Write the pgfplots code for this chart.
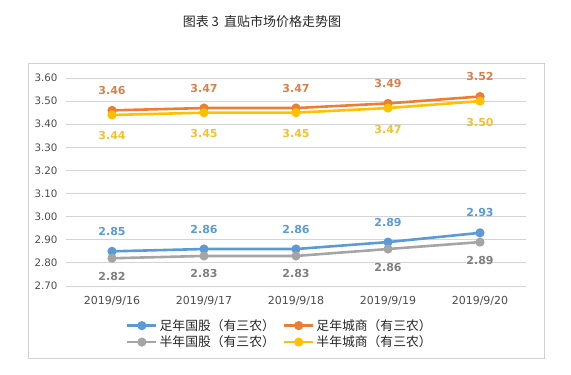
\documentclass[border=0pt]{standalone}
\usepackage{pgfplots}
\pgfplotsset{compat=1.18}
\usepackage{fontspec}
\setmainfont{DejaVu Sans}
\newfontfamily\cjk{Noto Sans CJK SC}
\definecolor{cblue}{HTML}{5B9BD5}
\definecolor{corange}{HTML}{ED7D31}
\definecolor{cgray}{HTML}{A5A5A5}
\definecolor{cyellow}{HTML}{FFC000}
\definecolor{lblue}{HTML}{5B9BD5}
\definecolor{lorange}{HTML}{D9804A}
\definecolor{lgray}{HTML}{7F7F7F}
\definecolor{lyellow}{HTML}{F2C12E}
\begin{document}
\begin{tikzpicture}[x=1pt,y=1pt]
\path[use as bounding box] (0,0) rectangle (571,375);
\draw[color=black!18, line width=0.8pt] (28,17) rectangle (544,312);
\node[font=\cjk\fontsize{13}{15}\selectfont, text=black!85] at (262,353) {图表 3\hspace{0.4em}直贴市场价格走势图};
\begin{axis}[
  at={(66pt,89pt)}, anchor=south west, scale only axis,
  width=460pt, height=208pt,
  xmin=-0.5, xmax=4.5, ymin=2.7, ymax=3.6,
  xtick={0,1,2,3,4},
  xticklabels={2019/9/16,2019/9/17,2019/9/18,2019/9/19,2019/9/20},
  ytick={2.7,2.8,2.9,3.0,3.1,3.2,3.3,3.4,3.5,3.6},
  yticklabel style={xshift=-5pt, font=\fontsize{10.3}{12}\selectfont, /pgf/number format/.cd,fixed,fixed zerofill,precision=2,assume math mode=true},
  xticklabel style={yshift=-7pt, font=\fontsize{11}{13}\selectfont, /pgf/number format/assume math mode=true},
  tick label style={text=black!70},
  axis line style={draw=none},
  major tick length=0pt,
  ymajorgrids, grid style={black!17, line width=0.8pt},
  clip=false,
  legend columns=2,
  legend style={at={(0.465,-0.23)}, anchor=center, draw=none, fill=none,
    font=\cjk\fontsize{12.8}{14}\selectfont, text=black!85,
    /tikz/every even column/.append style={column sep=6pt}},
  legend image code/.code={\draw[#1, mark=none] (0pt,0pt) -- (29pt,0pt); \draw[#1, only marks] plot coordinates {(14.5pt,0pt)};},
  every axis plot/.append style={line width=2.6pt, mark=*, mark size=3.2pt},
  nodes near coords={\pgfmathprintnumber[fixed,fixed zerofill,precision=2,assume math mode=true]{\pgfplotspointmeta}},
  every node near coord/.append style={font=\bfseries\fontsize{11}{13}\selectfont, anchor=center},
]
\addplot[color=cblue, every node near coord/.append style={text=lblue, yshift=20pt}] coordinates {(0,2.85)(1,2.86)(2,2.86)(3,2.89)(4,2.93)};
\addlegendentry{足年国股（有三农）}
\addplot[color=corange, every node near coord/.append style={text=lorange, yshift=20pt}] coordinates {(0,3.46)(1,3.47)(2,3.47)(3,3.49)(4,3.52)};
\addlegendentry{足年城商（有三农）}
\addplot[color=cgray, every node near coord/.append style={text=lgray, yshift=-18pt}] coordinates {(0,2.82)(1,2.83)(2,2.83)(3,2.86)(4,2.89)};
\addlegendentry{半年国股（有三农）}
\addplot[color=cyellow, every node near coord/.append style={text=lyellow, yshift=-21pt}] coordinates {(0,3.44)(1,3.45)(2,3.45)(3,3.47)(4,3.50)};
\addlegendentry{半年城商（有三农）}
\end{axis}
\end{tikzpicture}
\end{document}
